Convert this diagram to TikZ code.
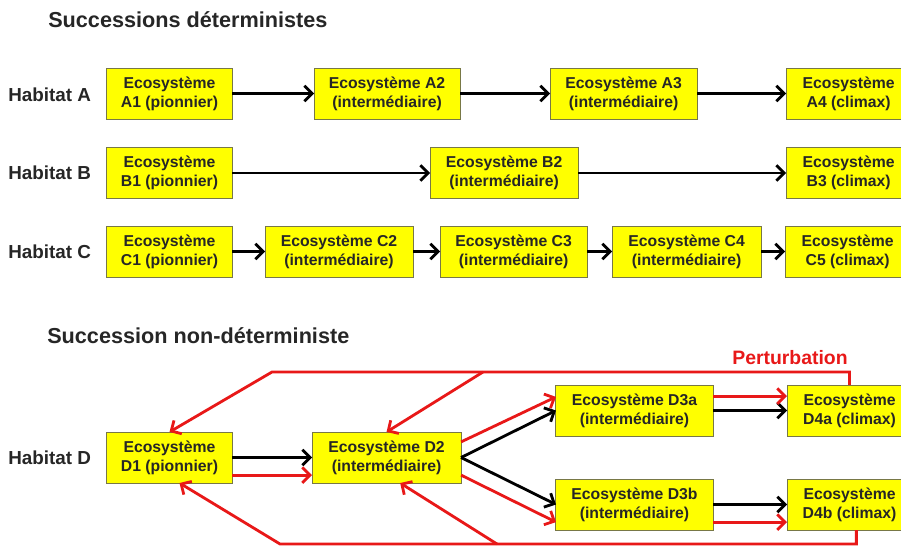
\documentclass[tikz,border=0pt]{standalone}
\usepackage{fontspec}
\setmainfont{Liberation Sans}
\usetikzlibrary{arrows.meta,positioning}
\definecolor{ecoyellow}{RGB}{255,255,0}
\definecolor{ecoborder}{RGB}{120,120,70}
\definecolor{pertred}{RGB}{232,24,24}

\begin{document}
\begin{tikzpicture}[x=0.025cm, y=-0.025cm,
  >={Straight Barb[length=5.5pt,width=11pt]},
  eco/.style={draw=ecoborder, line width=0.7pt, fill=ecoyellow, align=center, inner sep=0pt, outer sep=0pt, minimum height=1.275cm, font=\fontsize{11.2}{13.5}\selectfont\bfseries, text=black!85},
  habitat/.style={anchor=west, inner sep=0pt, font=\fontsize{13.4}{15}\selectfont\bfseries, text=black!85},
  titre/.style={anchor=base west, inner sep=0pt, font=\fontsize{15.4}{18}\selectfont\bfseries, text=black!85},
  fleche/.style={line width=2pt, ->},
  rouge/.style={line width=2pt, ->, draw=pertred}]
\clip (0,0) rectangle (901,546);

\node[titre] (t1) at (48,27.7) {Successions déterministes};
\node[titre] (t2) at (47,343) {Succession non-déterministe};

% habitat A
\node[habitat] (hA) at (8,95) {Habitat A};
\node[eco, minimum width=3.125cm] (a1) at (169.5,93.5) {Ecosystème\\A1 (pionnier)};
\node[eco, minimum width=3.65cm] [right = 2.05cm of a1] (a2) {Ecosystème A2\\(intermédiaire)};
\node[eco, minimum width=3.675cm] [right = 2.25cm of a2] (a3) {Ecosystème A3\\(intermédiaire)};
\node[eco, minimum width=3.125cm] [right = 2.225cm of a3] (a4) {Ecosystème\\A4 (climax)};
\draw[fleche] (a1) -- (a2);
\draw[fleche] (a2) -- (a3);
\draw[fleche] (a3) -- (a4);

% habitat B
\node[habitat] (hB) at (8,173) {Habitat B};
\node[eco, minimum width=3.125cm] (b1) at (169.5,173) {Ecosystème\\B1 (pionnier)};
\node[eco, minimum width=3.7cm] [right = 4.95cm of b1] (b2) {Ecosystème B2\\(intermédiaire)};
\node[eco, minimum width=3.125cm] [right = 5.2cm of b2] (b3) {Ecosystème\\B3 (climax)};
\draw[fleche] (b1) -- (b2);
\draw[fleche] (b2) -- (b3);

% habitat C
\node[habitat] (hC) at (8,252) {Habitat C};
\node[eco, minimum width=3.125cm] (c1) at (169.5,251.5) {Ecosystème\\C1 (pionnier)};
\node[eco, minimum width=3.7cm] [right = 0.825cm of c1] (c2) {Ecosystème C2\\(intermédiaire)};
\node[eco, minimum width=3.675cm] [right = 0.675cm of c2] (c3) {Ecosystème C3\\(intermédiaire)};
\node[eco, minimum width=3.725cm] [right = 0.625cm of c3] (c4) {Ecosystème C4\\(intermédiaire)};
\node[eco, minimum width=3.125cm] [right = 0.6cm of c4] (c5) {Ecosystème\\C5 (climax)};
\draw[fleche] (c1) -- (c2);
\draw[fleche] (c2) -- (c3);
\draw[fleche] (c3) -- (c4);
\draw[fleche] (c4) -- (c5);

% habitat D
\node[habitat] (hD) at (8,458) {Habitat D};
\node[eco, minimum width=3.125cm] (d1) at (169.5,457.5) {Ecosystème\\D1 (pionnier)};
\node[eco, minimum width=3.725cm] [right = 2cm of d1] (d2) {Ecosystème D2\\(intermédiaire)};
\node[eco, minimum width=3.925cm] (d3a) at (634.5,410.5) {Ecosystème D3a\\(intermédiaire)};
\node[eco, minimum width=3.925cm] (d3b) at (634.5,504.5) {Ecosystème D3b\\(intermédiaire)};
\node[eco, minimum width=3.125cm] [right = 1.85cm of d3a] (d4a) {Ecosystème\\D4a (climax)};
\node[eco, minimum width=3.125cm] [right = 1.85cm of d3b] (d4b) {Ecosystème\\D4b (climax)};
\node[anchor=base, inner sep=0pt, font=\fontsize{13.8}{16}\selectfont\bfseries, text=pertred] (pert) at (790,364) {Perturbation};

\draw[fleche] (d1) -- (d2);
\draw[rouge] ([yshift=-0.44cm]d1.east) -- ([yshift=-0.44cm]d2.west);
\draw[fleche] (d2.east) -- (d3a.west);
\draw[fleche] (d2.east) -- (d3b.west);
\draw[rouge] ([yshift=0.39cm]d2.east) -- ([yshift=0.34cm]d3a.west);
\draw[rouge] ([yshift=-0.44cm]d2.east) -- ([yshift=-0.44cm]d3b.west);
\draw[fleche] (d3a) -- (d4a);
\draw[rouge] ([yshift=0.36cm]d3a.east) -- ([yshift=0.36cm]d4a.west);
\draw[fleche] (d3b) -- (d4b);
\draw[rouge] ([yshift=-0.44cm]d3b.east) -- ([yshift=-0.44cm]d4b.west);

% perturbations
\coordinate (haut1) at (272,372);
\coordinate (haut2) at (483,372);
\coordinate (bas1) at (280,544);
\coordinate (bas2) at (497,544);
\draw[rouge] (d4a.north) |- (haut1) -- (d1.north);
\draw[rouge] (haut2) -- (d2.north);
\draw[rouge] ([xshift=0.17cm]d4b.south) |- (bas1) -- ([xshift=0.25cm]d1.south);
\draw[rouge] (bas2) -- ([xshift=0.34cm]d2.south);
\end{tikzpicture}
\end{document}
